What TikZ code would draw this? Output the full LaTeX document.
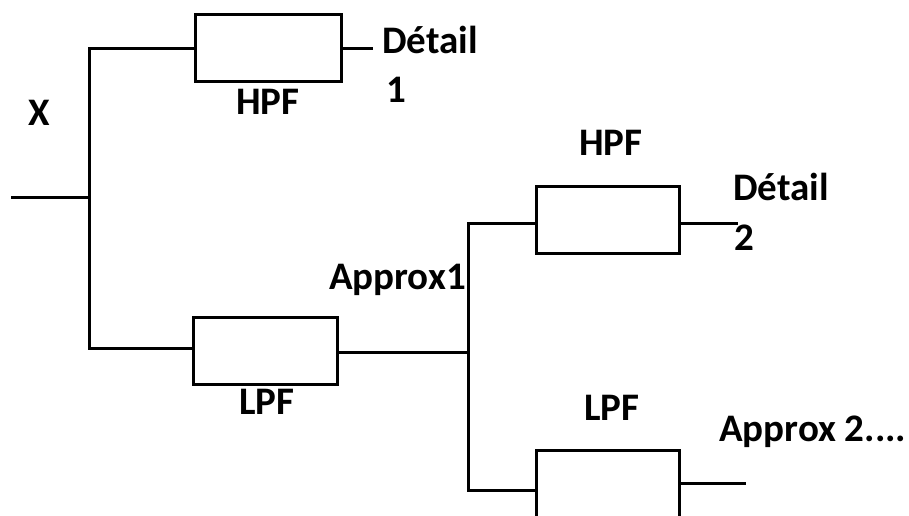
\documentclass[tikz,border=0pt]{standalone}
\usepackage{fontspec}
\setmainfont{Carlito}
\begin{document}
\begin{tikzpicture}[x=1pt,y=-1pt,
  wire/.style={line width=3pt,line cap=rect},
  filterbox/.style={draw,line width=3pt,minimum width=143pt,minimum height=67pt,inner sep=0pt},
  lbl/.style={font=\fontsize{39}{42}\selectfont\bfseries,inner sep=0pt}]
\useasboundingbox (0,0) rectangle (909,515);
\clip (0,0) rectangle (909,515);
% junction coordinates
\coordinate (in) at (12,197);
\coordinate (j1mid) at (89,197);
\coordinate (j1top) at (89,48);
\coordinate (j1bot) at (89,348);
\coordinate (j2) at (468,352);
\coordinate (j2top) at (468,223);
\coordinate (j2bot) at (468,490);
\coordinate (d1end) at (371,48);
\coordinate (d2end) at (736,223);
\coordinate (a2end) at (744,483);
% boxes
\node[filterbox,minimum width=146pt] (hpf1) at (268,47.5) {};
\node[filterbox,minimum width=144pt] (lpf1) at (265,350.5) {};
\node[filterbox] (hpf2) at (607.5,219.5) {};
\node[filterbox] (lpf2) at (607.5,483.5) {};
% wires
\draw[wire] (in) -- (j1mid);
\draw[wire] (j1top) -- (j1bot);
\draw[wire] (j1top) -- (hpf1.west |- j1top);
\draw[wire] (hpf1.east |- d1end) -- (d1end);
\draw[wire] (j1bot) -- (lpf1.west |- j1bot);
\draw[wire] (lpf1.east |- j2) -- (j2);
\draw[wire] (j2top) -- (j2bot);
\draw[wire] (j2top) -- (hpf2.west |- j2top);
\draw[wire] (hpf2.east |- d2end) -- (d2end);
\draw[wire] (j2bot) -- (lpf2.west |- j2bot);
\draw[wire] (lpf2.east |- a2end) -- (a2end);
% labels
\node[lbl] (xlbl) at (39,113) {X};
\node[lbl] (hpf1lbl) at (268,102) {HPF};
\node[lbl,anchor=west] (det1) at (382,40) {Détail};
\node[lbl,anchor=west] (det1n) at (386,90) {1};
\node[lbl] (lpf1lbl) at (267,402) {LPF};
\node[lbl,anchor=east] (app1) at (466,280) {Approx1};
\node[lbl] (hpf2lbl) at (611,143) {HPF};
\node[lbl,anchor=west] (det2) at (733,187) {Détail};
\node[lbl,anchor=west] (det2n) at (734,238) {2};
\node[lbl] (lpf2lbl) at (612,408) {LPF};
\node[lbl,anchor=west] (app2) at (719,432) {Approx 2....};
\end{tikzpicture}
\end{document}
